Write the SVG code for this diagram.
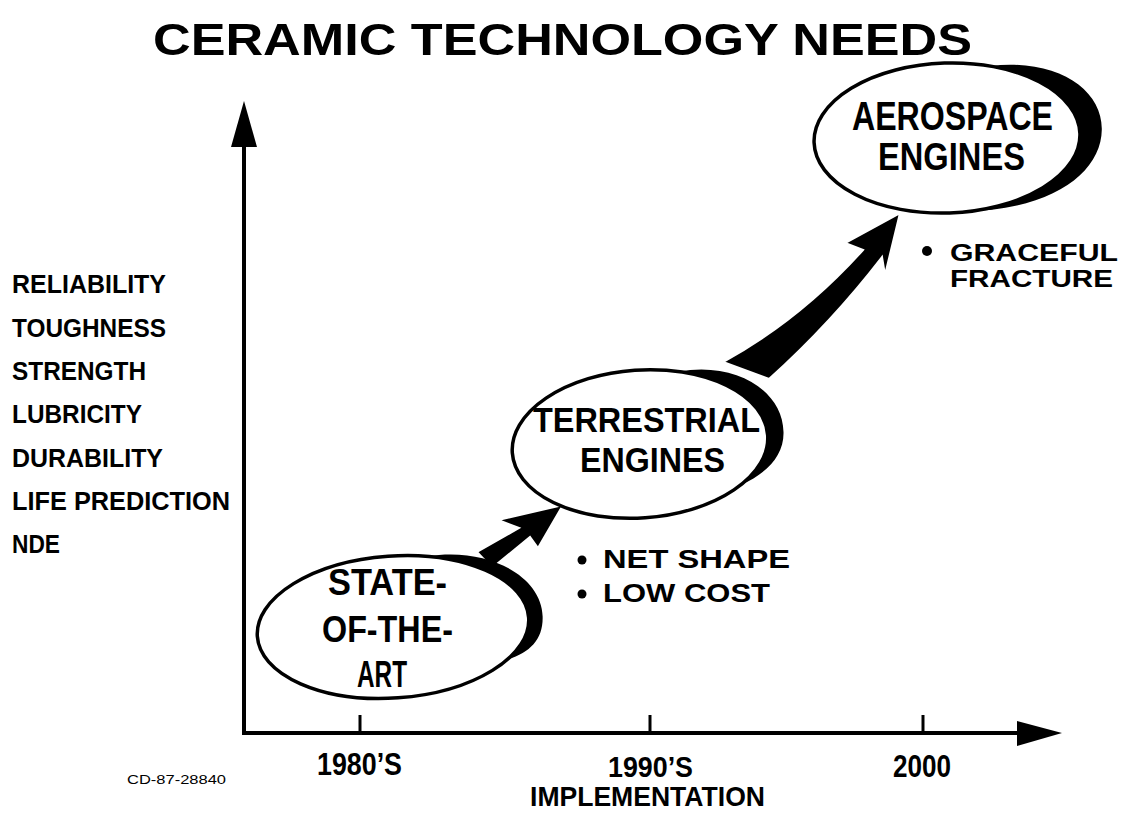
<svg xmlns="http://www.w3.org/2000/svg" width="1124" height="813" viewBox="0 0 1124 813">
<style>
.bg{fill:#fff}
.t{font-family:"Liberation Sans",Arial,sans-serif;font-weight:bold;fill:#000}
.c{font-family:"Liberation Sans Narrow","Liberation Sans",Arial,sans-serif;font-weight:bold;fill:#000}
.s{font-family:"Liberation Sans",Arial,sans-serif;fill:#000}
.ell{fill:#fff;stroke:#000;stroke-width:3.5}
.cres{fill:#000}
.ax{stroke:#000;stroke-width:4;fill:none}
.tick{stroke:#000;stroke-width:3;fill:none}
.arr{fill:#000;stroke:#fff;stroke-width:2;stroke-linejoin:miter}
</style>
<rect class="bg" x="0" y="0" width="1124" height="813"/>
<text class="t" x="153" y="55" font-size="45" textLength="819" lengthAdjust="spacingAndGlyphs">CERAMIC TECHNOLOGY NEEDS</text>

<g id="axes">
<line class="ax" x1="244" y1="140" x2="244" y2="735"/>
<polygon points="244,101 257,147 231,147" fill="#000"/>
<line class="ax" x1="242" y1="733" x2="1020" y2="733"/>
<polygon points="1062,733 1017,721 1017,746" fill="#000"/>
<line class="tick" x1="360" y1="715" x2="360" y2="733"/>
<line class="tick" x1="650" y1="715" x2="650" y2="733"/>
<line class="tick" x1="923" y1="715" x2="923" y2="733"/>
</g>

<g id="needs-list">
<text class="c" x="12" y="293" font-size="25" textLength="154" lengthAdjust="spacingAndGlyphs">RELIABILITY</text>
<text class="c" x="12" y="337" font-size="25" textLength="154" lengthAdjust="spacingAndGlyphs">TOUGHNESS</text>
<text class="c" x="12" y="380" font-size="25" textLength="134" lengthAdjust="spacingAndGlyphs">STRENGTH</text>
<text class="c" x="12" y="423" font-size="25" textLength="130" lengthAdjust="spacingAndGlyphs">LUBRICITY</text>
<text class="c" x="12" y="467" font-size="25" textLength="151" lengthAdjust="spacingAndGlyphs">DURABILITY</text>
<text class="c" x="12" y="510" font-size="25" textLength="218" lengthAdjust="spacingAndGlyphs">LIFE PREDICTION</text>
<text class="c" x="12" y="553" font-size="25" textLength="48" lengthAdjust="spacingAndGlyphs">NDE</text>
</g>

<g id="connectors">
<polygon class="arr" points="477,552 519,528 498,520 563,505 538,548 530,537 492,568"/>
<path class="arr" d="M723,362 Q800,320 863,250 L845,243 L900,213 L885,275 L882,257 Q832,322 769,379 Z"/>
</g>

<g id="state">
<g transform="rotate(-4 393 627)">
<path class="cres" d="M432,559 C490,553 545,585 543,627 C542,650 528,662 504.4,667.7 L393,627 Z"/>
<ellipse class="ell" cx="393" cy="627" rx="136" ry="71"/>
</g>
<text class="c" x="328" y="595" font-size="37" textLength="119" lengthAdjust="spacingAndGlyphs">STATE-</text>
<text class="c" x="322" y="642" font-size="37" textLength="131" lengthAdjust="spacingAndGlyphs">OF-THE-</text>
<text class="c" x="357" y="687" font-size="37" textLength="50" lengthAdjust="spacingAndGlyphs">ART</text>
</g>

<g id="terrestrial">
<g transform="rotate(-4 640 444)">
<path class="cres" d="M683.8,374.4 C740,368 786,400 784,442 C783,465 765,482 738,491.6 L640,444 Z"/>
<ellipse class="ell" cx="640" cy="444" rx="128" ry="74"/>
</g>
<text class="c" x="533" y="432" font-size="35" textLength="227" lengthAdjust="spacingAndGlyphs">TERRESTRIAL</text>
<text class="c" x="580" y="472" font-size="35" textLength="145" lengthAdjust="spacingAndGlyphs">ENGINES</text>
</g>

<g id="aerospace">
<g transform="rotate(-2 947 138)">
<path class="cres" d="M992.5,67.5 C1060,62 1104,95 1102,135 C1100,178 1050,214 960,212 L947,138 Z"/>
<ellipse class="ell" cx="947" cy="138" rx="133" ry="75"/>
</g>
<text class="c" x="852" y="130" font-size="41" textLength="201" lengthAdjust="spacingAndGlyphs">AEROSPACE</text>
<text class="c" x="878" y="170" font-size="39" textLength="147" lengthAdjust="spacingAndGlyphs">ENGINES</text>
</g>

<g id="terrestrial-notes">
<circle cx="582" cy="560" r="4.5"/>
<text class="t" x="603" y="568" font-size="25" textLength="187" lengthAdjust="spacingAndGlyphs">NET SHAPE</text>
<circle cx="582" cy="594" r="4.5"/>
<text class="t" x="603" y="602" font-size="25" textLength="167" lengthAdjust="spacingAndGlyphs">LOW COST</text>
</g>

<g id="aerospace-notes">
<circle cx="927" cy="251" r="5"/>
<text class="t" x="950" y="261" font-size="23" textLength="168" lengthAdjust="spacingAndGlyphs">GRACEFUL</text>
<text class="t" x="950" y="287" font-size="23" textLength="163" lengthAdjust="spacingAndGlyphs">FRACTURE</text>
</g>

<g id="axis-labels">
<text class="c" x="317" y="775" font-size="31" textLength="85" lengthAdjust="spacingAndGlyphs">1980’S</text>
<text class="c" x="608" y="777" font-size="29" textLength="85" lengthAdjust="spacingAndGlyphs">1990’S</text>
<text class="c" x="893" y="777" font-size="31" textLength="58" lengthAdjust="spacingAndGlyphs">2000</text>
<text class="c" x="530" y="806" font-size="28" textLength="235" lengthAdjust="spacingAndGlyphs">IMPLEMENTATION</text>
<text class="s" x="127" y="784" font-size="13" textLength="99" lengthAdjust="spacingAndGlyphs">CD-87-28840</text>
</g>
</svg>
